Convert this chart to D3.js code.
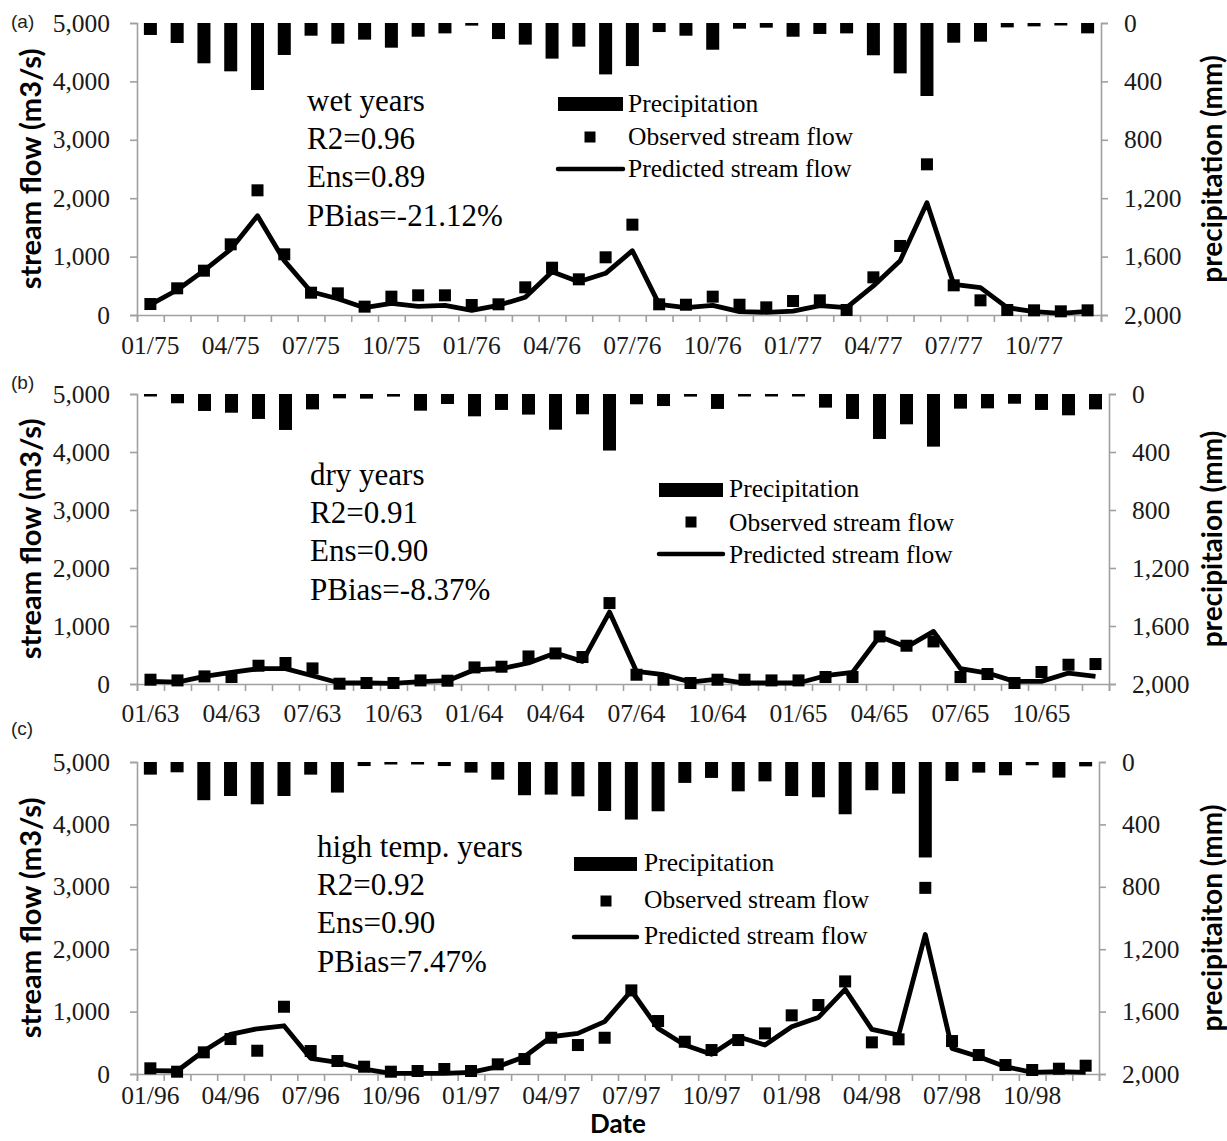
<!DOCTYPE html>
<html>
<head>
<meta charset="utf-8">
<script src="https://cdn.jsdelivr.net/npm/d3@7/dist/d3.min.js"></script>
<style>
  html, body { margin: 0; padding: 0; background: #fff; }
  svg { display: block; }
</style>
</head>
<body>
<svg id="chart" width="1227" height="1141"></svg>
<script>
// ---------------- DATA ----------------
// Panel (a) wet years 1975-1977
const monthLabelsA = ["01/75","04/75","07/75","10/75","01/76","04/76","07/76","10/76","01/77","04/77","07/77","10/77"];
const precipA = [82,137,276,331,459,219,87,142,114,169,94,71, 18,110,148,244,162,352,295,62,87,183,39,32, 94,75,71,221,345,500,135,128,30,23,14,71];
const observedA = [188,457,759,1210,2135,1039,382,371,143,314,337,337, 171,183,474,810,611,988,1547,183,176,314,176,131, 240,251,86,645,1182,2580,508,251,86,80,63,80];
const predictedA = [176,428,759,1125,1700,930,399,279,125,200,149,166, 80,166,303,742,570,714,1101,183,125,166,57,46, 68,159,125,497,930,1923,525,468,125,57,29,63];
const statsA = ["wet years","R2=0.96","Ens=0.89","PBias=-21.12%"];

// Panel (b) dry years 1963-1965
const monthLabelsB = ["01/63","04/63","07/63","10/63","01/64","04/64","07/64","10/64","01/65","04/65","07/65","10/65"];
const precipB = [12,64,117,129,172,248,106,30,32,18,115,69, 154,110,142,246,140,390,71,83,18,103,9,14, 14,94,172,310,209,363,101,99,67,110,147,106];
const observedB = [74,62,131,121,315,362,269,5,17,17,62,57, 286,298,475,527,465,1395,160,74,17,74,74,62, 62,121,121,820,660,734,121,172,17,207,332,344];
const predictedB = [45,34,131,200,264,264,143,17,17,12,40,57, 246,264,362,534,390,1240,217,160,34,86,17,17, 17,143,200,820,637,906,264,189,45,45,189,131];
const statsB = ["dry years","R2=0.91","Ens=0.90","PBias=-8.37%"];

// Panel (c) high temperature years 1996-1998
const monthLabelsC = ["01/96","04/96","07/96","10/96","01/97","04/97","07/97","10/97","01/98","04/98","07/98","10/98"];
const precipC = [81,66,245,218,271,218,81,196,26,15,15,26, 68,113,213,209,220,314,369,316,134,102,188,124, 218,226,335,181,203,612,122,68,85,21,100,28];
const observedC = [91,37,347,560,373,1078,368,208,117,37,48,80, 48,155,240,581,464,581,1340,849,517,384,544,651, 940,1105,1484,507,555,2983,528,304,144,64,85,133];
const predictedC = [53,48,368,636,725,773,251,187,80,11,11,11, 27,117,277,597,651,840,1334,731,464,315,597,464, 757,907,1356,715,624,2236,411,277,117,27,37,27];
const statsC = ["high temp. years","R2=0.92","Ens=0.90","PBias=7.47%"];

const flowTicks = [0,1000,2000,3000,4000,5000];
const precipTicks = [0,400,800,1200,1600,2000];
const legendLabels = ["Precipitation","Observed stream flow","Predicted stream flow"];

// ---------------- LAYOUT ----------------
const panels = [
  { tag:"(a)", tagY:28, top:23, bottom:315, left:137, right:1101, labels:monthLabelsA,
    precip:precipA, obs:observedA, pred:predictedA, stats:statsA,
    statsX:307, statsY:111, legSymX:558, legSymW:65, legTextX:628, legY:[112,144.5,176.5],
    legRectY:97, legMarkY:137, legLineY:169, legMarkX:590,
    xLabY:354, rightTitle:"precipitation (mm)" },
  { tag:"(b)", tagY:389, top:394, bottom:684, left:137, right:1109, labels:monthLabelsB,
    precip:precipB, obs:observedB, pred:predictedB, stats:statsB,
    statsX:310, statsY:485, legSymX:659, legSymW:64, legTextX:729, legY:[497,531,562.5],
    legRectY:483, legMarkY:522, legLineY:554, legMarkX:691,
    xLabY:722, rightTitle:"precipitaion (mm)" },
  { tag:"(c)", tagY:735, top:762, bottom:1074, left:137, right:1099, labels:monthLabelsC,
    precip:precipC, obs:observedC, pred:predictedC, stats:statsC,
    statsX:317, statsY:857, legSymX:574, legSymW:63, legTextX:644, legY:[871,908,944],
    legRectY:857, legMarkY:901, legLineY:937, legMarkX:606,
    xLabY:1104, rightTitle:"precipitaiton (mm)" }
];

const SERIF = "'Liberation Serif','Times New Roman',serif";
const SANS_BOLD = "Lato,'Open Sans',sans-serif";
const AXIS_COLOR = "#a0a0a0";
const svg = d3.select("#chart");
svg.append("rect").attr("width",1227).attr("height",1141).attr("fill","#fff");

panels.forEach(p => {
  const n = p.precip.length;
  const g = svg.append("g");
  const xBand = d3.scaleBand().domain(d3.range(n)).range([p.left, p.right]).paddingInner(0).paddingOuter(0);
  const xEdge = d3.scaleLinear().domain([0, n]).range([p.left, p.right]);
  const yFlow = d3.scaleLinear().domain([0, 5000]).range([p.bottom, p.top]);
  const yPrec = d3.scaleLinear().domain([0, 2000]).range([p.top, p.bottom]);
  const cx = i => xBand(i) + xBand.bandwidth() / 2;

  // Left axis
  const la = g.append("g").attr("transform", `translate(${p.left},0)`)
    .call(d3.axisLeft(yFlow).tickValues(flowTicks).tickFormat(d3.format(",")).tickSizeOuter(0).tickSize(7).tickPadding(20));
  // Right axis
  const ra = g.append("g").attr("transform", `translate(${p.right},0)`)
    .call(d3.axisRight(yPrec).tickValues(precipTicks).tickFormat(d3.format(",")).tickSizeOuter(0).tickSize(7).tickPadding(16));
  // Bottom axis (ticks at month boundaries)
  const ba = g.append("g").attr("transform", `translate(0,${p.bottom})`)
    .call(d3.axisBottom(xEdge).tickValues(d3.range(n + 1)).tickFormat("").tickSizeOuter(0).tickSize(7));
  [la, ra, ba].forEach(a => {
    a.select(".domain").attr("stroke", AXIS_COLOR).attr("stroke-width", 1.6);
    a.selectAll(".tick line").attr("stroke", AXIS_COLOR).attr("stroke-width", 1.6);
    a.selectAll(".tick text").attr("fill", "#1a1a1a").attr("font-family", SERIF).attr("font-size", 25.5);
  });

  // x labels every 3 months
  g.selectAll("text.xl").data(p.labels).enter().append("text")
    .attr("x", (d, k) => cx(k * 3)).attr("y", p.xLabY)
    .attr("text-anchor", "middle").attr("font-family", SERIF).attr("font-size", 25.5).attr("fill", "#1a1a1a")
    .text(d => d);

  // Precipitation bars (hanging from top)
  const bw = 13;
  g.selectAll("rect.bar").data(p.precip).enter().append("rect")
    .attr("x", (d, i) => cx(i) - bw / 2).attr("y", yPrec(0))
    .attr("width", bw).attr("height", d => Math.max(2.5, yPrec(d) - yPrec(0)))
    .attr("fill", "#000");

  // Predicted line
  const line = d3.line().x((d, i) => cx(i)).y(d => yFlow(d));
  g.append("path").datum(p.pred).attr("d", line)
    .attr("fill", "none").attr("stroke", "#000").attr("stroke-width", 4.8).attr("stroke-linejoin", "round");

  // Observed markers
  const ms = 12;
  g.selectAll("rect.obs").data(p.obs).enter().append("rect")
    .attr("x", (d, i) => cx(i) - ms / 2).attr("y", d => yFlow(d) - ms / 2)
    .attr("width", ms).attr("height", ms).attr("fill", "#000");

  // Stats text
  g.selectAll("text.st").data(p.stats).enter().append("text")
    .attr("x", p.statsX).attr("y", (d, i) => p.statsY + i * 38.2)
    .attr("font-family", SERIF).attr("font-size", 31).attr("fill", "#000").text(d => d);

  // Legend
  g.append("rect").attr("x", p.legSymX).attr("y", p.legRectY).attr("width", p.legSymW).attr("height", 14).attr("fill", "#000");
  g.append("rect").attr("x", p.legMarkX - 5.5).attr("y", p.legMarkY - 5.5).attr("width", 11).attr("height", 11).attr("fill", "#000");
  g.append("line").attr("x1", p.legSymX).attr("x2", p.legSymX + p.legSymW).attr("y1", p.legLineY).attr("y2", p.legLineY)
    .attr("stroke", "#000").attr("stroke-width", 4.5).attr("stroke-linecap", "round");
  g.selectAll("text.lg").data(legendLabels).enter().append("text")
    .attr("x", p.legTextX).attr("y", (d, i) => p.legY[i])
    .attr("font-family", SERIF).attr("font-size", 25.5).attr("fill", "#000").text(d => d);

  // Axis titles
  const midY = (p.top + p.bottom) / 2;
  g.append("text").attr("transform", `translate(41,${midY}) rotate(-90)`)
    .attr("text-anchor", "middle").attr("font-family", SANS_BOLD).attr("font-weight", 700)
    .attr("font-size", 29).attr("fill", "#000").text("stream flow (m3/s)");
  g.append("text").attr("transform", `translate(1222,${midY}) rotate(-90)`)
    .attr("text-anchor", "middle").attr("font-family", SANS_BOLD).attr("font-weight", 700)
    .attr("font-size", 28).attr("fill", "#000").text(p.rightTitle);

  // Panel tag
  svg.append("text").attr("x", 11).attr("y", p.tagY).attr("font-family", "'Liberation Sans',Arial,sans-serif")
    .attr("font-size", 19).attr("fill", "#222").text(p.tag);
});

// X axis title
svg.append("text").attr("x", 618).attr("y", 1133).attr("text-anchor", "middle")
  .attr("font-family", SANS_BOLD).attr("font-weight", 700).attr("font-size", 26).attr("fill", "#000").text("Date");
</script>
</body>
</html>
